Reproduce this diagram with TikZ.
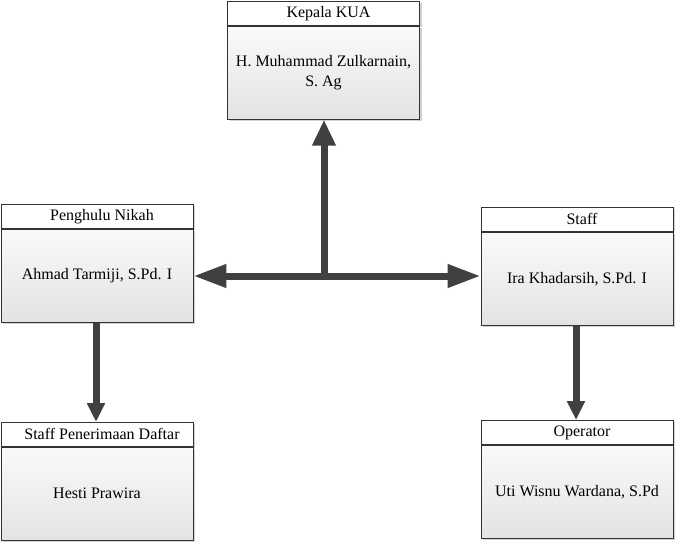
\documentclass[tikz,border=0pt]{standalone}
\usepackage{fontspec}
\setmainfont{Liberation Serif}
\usetikzlibrary{arrows.meta,shadows,calc}
\begin{document}
\begin{tikzpicture}[x=1pt,y=-1pt]
\useasboundingbox (0,0) rectangle (675,542);
\tikzset{
  boxhead/.style={draw=black!80, line width=0.8pt, fill=white, minimum width=192pt, minimum height=24pt, inner sep=0pt, drop shadow={shadow xshift=2pt, shadow yshift=-2pt, fill=black!30, opacity=0.6}},
  headtext/.style={inner sep=0pt, font=\fontsize{16}{19}\selectfont},
  boxbody/.style={draw=black!80, line width=0.8pt, top color=white!98!black, bottom color=white!89!black, minimum width=192pt, minimum height=93pt, inner sep=0pt, align=center, font=\fontsize{16}{19.5}\selectfont, drop shadow={shadow xshift=2pt, shadow yshift=-2pt, fill=black!30, opacity=0.6}},
  conn/.style={line width=7pt, draw=black!75, line cap=butt},
  bigtip/.style={-{Triangle[length=33pt,width=22pt]}},
  toptip/.style={-{Triangle[length=26pt,width=22pt]}},
  smalltip/.style={-{Triangle[length=19pt,width=17pt]}}
}
\newcommand\orgbox[5]{%
  \node[boxhead, anchor=north] (#1h) at (#2,#3) {};
  \node[headtext] (#1t) at ($(#1h.center)+(5,0)$) {#4};
  \node[boxbody, anchor=north] (#1) at (#1h.south) {#5};
}
\orgbox{kua}{323.5}{1}{Kepala KUA}{H. Muhammad Zulkarnain,\\ S. Ag}
\orgbox{pen}{97}{204}{Penghulu Nikah}{Ahmad Tarmiji, S.Pd. I}
\orgbox{stf}{577}{207}{Staff}{Ira Khadarsih, S.Pd. I}
\orgbox{spd}{97}{422}{Staff Penerimaan Daftar}{Hesti Prawira}
\orgbox{opr}{577}{420}{Operator}{Uti Wisnu Wardana, S.Pd}
\coordinate (j) at (324,276);
\draw[conn, toptip] ($(j)+(0,3.5)$) -- (j |- kua.south);
\draw[conn, bigtip] (j) -- (j -| pen.east);
\draw[conn, bigtip] (j) -- (j -| stf.west);
\draw[conn, smalltip] (96,0 |- pen.south) -- (96,0 |- spdh.north);
\draw[conn, smalltip] (576,0 |- stf.south) -- (576,0 |- oprh.north);
\end{tikzpicture}
\end{document}
